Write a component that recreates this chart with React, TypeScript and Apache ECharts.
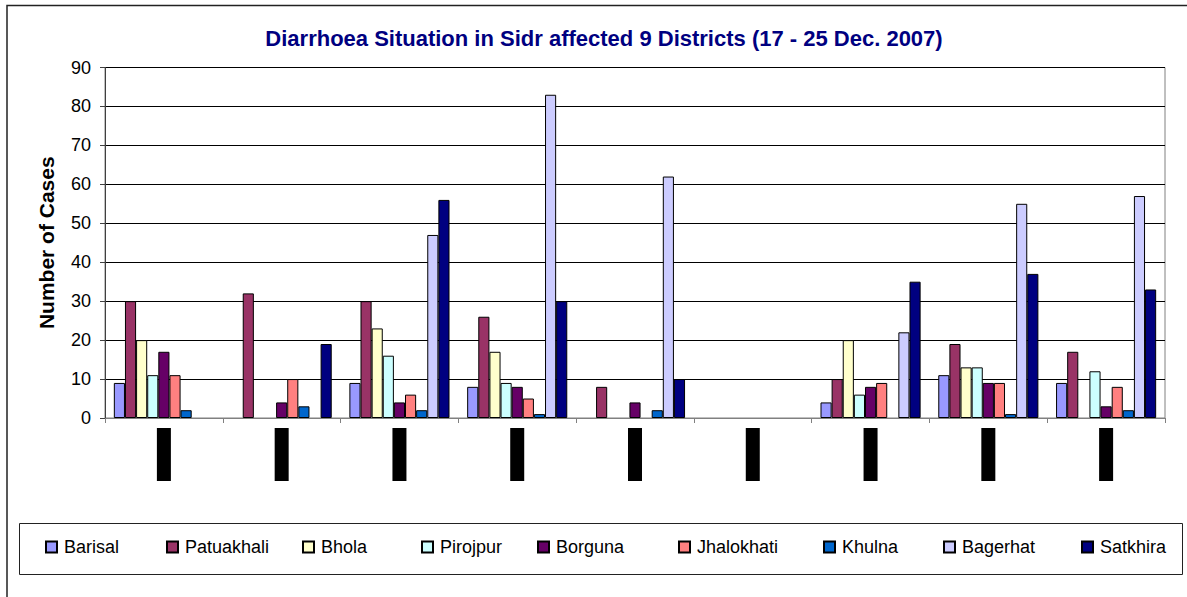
import React, { useEffect, useRef } from "react";
import * as echarts from "echarts";

const days = ["17", "18", "19", "20", "21", "22", "23", "24", "25"];
const districts = ["Barisal", "Patuakhali", "Bhola", "Pirojpur", "Borguna", "Jhalokhati", "Khulna", "Bagerhat", "Satkhira"];
const colors = ["#9999FF", "#993366", "#FFFFCC", "#CCFFFF", "#660066", "#FF8080", "#0066CC", "#CCCCFF", "#000080"];

const barisal = [9, 0, 9, 8, 0, 0, 4, 11, 9];
const patuakhali = [30, 32, 30, 26, 8, 0, 10, 19, 17];
const bhola = [20, 0, 23, 17, 0, 0, 20, 13, 0];
const pirojpur = [11, 0, 16, 9, 0, 0, 6, 13, 12];
const borguna = [17, 4, 4, 8, 4, 0, 8, 9, 3];
const jhalokhati = [11, 10, 6, 5, 0, 0, 9, 9, 8];
const khulna = [2, 3, 2, 1, 2, 0, 0, 1, 2];
const bagerhat = [0, 0, 47, 83, 62, 0, 22, 55, 57];
const satkhira = [0, 19, 56, 30, 10, 0, 35, 37, 33];

const seriesValues = [barisal, patuakhali, bhola, pirojpur, borguna, jhalokhati, khulna, bagerhat, satkhira];
const yTicks = [0, 10, 20, 30, 40, 50, 60, 70, 80, 90];
const legendLeft = [45, 166, 302, 421, 537, 678, 823, 943, 1081];

const FONT = "'Liberation Sans', Arial, sans-serif";

export default function App() {
  const ref = useRef<HTMLDivElement>(null);
  useEffect(() => {
    if (!ref.current) return;
    const chart = echarts.init(ref.current, undefined, { renderer: "svg" });
    const option = {
      animation: false,
      backgroundColor: "#fff",
      textStyle: { fontFamily: FONT },
      grid: {
        left: 105,
        top: 67.5,
        right: 22,
        bottom: 179,
        show: true,
        borderColor: "#808080",
        borderWidth: 1,
        backgroundColor: "transparent",
      },
      legend: districts.map((d, i) => ({
        data: [d],
        left: legendLeft[i],
        top: 538,
        padding: 0,
        itemWidth: 11,
        itemHeight: 11,
        icon: "rect",
        textStyle: { fontSize: 18, color: "#000", fontFamily: FONT, padding: [0, 0, 0, 2] },
        selectedMode: false,
      })),
      xAxis: {
        type: "category",
        data: days,
        axisLine: { lineStyle: { color: "#808080", width: 1 } },
        axisTick: { show: true, length: 5, lineStyle: { color: "#808080" } },
        axisLabel: {
          margin: 10,
          interval: 0,
          formatter: (v: string) => "{b|" + v + "}",
          rich: {
            b: {
              backgroundColor: "#000",
              color: "#000",
              width: 14,
              height: 53,
              fontSize: 8,
              align: "center",
            },
          },
        },
      },
      yAxis: {
        type: "value",
        min: yTicks[0],
        max: yTicks[yTicks.length - 1],
        interval: 10,
        name: "Number of Cases",
        nameLocation: "middle",
        nameRotate: 90,
        nameGap: 48,
        nameTextStyle: { fontSize: 21, fontWeight: "bold", color: "#000", fontFamily: FONT },
        axisLine: { show: true, lineStyle: { color: "#404040", width: 1 } },
        axisTick: { show: true, length: 5, lineStyle: { color: "#404040" } },
        axisLabel: { fontSize: 18, color: "#000", margin: 14, fontFamily: FONT },
        splitLine: { show: true, lineStyle: { color: "#000", width: 1 } },
      },
      series: districts.map((d, i) => ({
        name: d,
        type: "bar",
        barGap: "0%",
        barCategoryGap: "15%",
        itemStyle: { color: colors[i], borderColor: "#000", borderWidth: 1 },
        data: seriesValues[i].map((v) => (v === 0 ? "-" : v)),
      })),
      graphic: [
        {
          type: "rect",
          shape: { x: 7, y: 5.5, width: 1300, height: 700 },
          style: { fill: "none", stroke: "#222", lineWidth: 1.5 },
          silent: true,
        },
        {
          type: "rect",
          shape: { x: 19.5, y: 523.5, width: 1163, height: 51 },
          style: { fill: "none", stroke: "#222", lineWidth: 1 },
          silent: true,
        },
        {
          type: "text",
          x: 604,
          y: 38,
          style: {
            text: "Diarrhoea Situation in Sidr affected 9 Districts (17 - 25 Dec. 2007)",
            fill: "#000080",
            font: "bold 22px " + FONT,
            textAlign: "center",
            textVerticalAlign: "middle",
          },
        },
      ],
    };
    chart.setOption(option as any);
    return () => chart.dispose();
  }, []);
  return (
    <div
      ref={ref}
      style={{ position: "fixed", left: 0, top: 0, width: 1187, height: 597 }}
    />
  );
}
